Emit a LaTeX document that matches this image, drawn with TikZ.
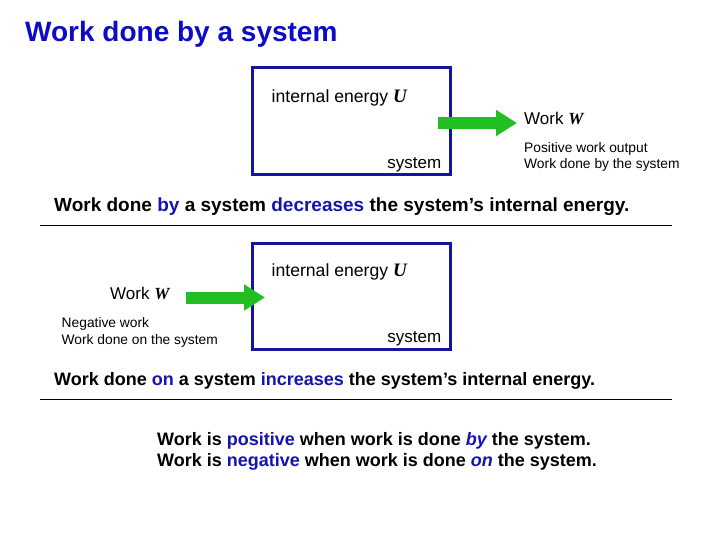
\documentclass[tikz,border=0pt]{standalone}
\usepackage{fontspec}
\setmainfont{Liberation Sans}
\newfontfamily\symfont{Liberation Serif}
\usetikzlibrary{arrows.meta}
\definecolor{sysblue}{RGB}{20,20,160}
\definecolor{titleblue}{RGB}{12,12,200}
\definecolor{wordblue}{RGB}{20,20,175}
\definecolor{workgreen}{RGB}{34,190,34}
\newcommand{\qU}{{\symfont\bfseries\itshape\fontsize{19}{20}\selectfont U}}
\newcommand{\qW}{{\symfont\bfseries\itshape W}}
\newcommand{\hl}[1]{\textcolor{wordblue}{#1}}
\tikzset{
  sysbox/.style={draw=sysblue, line width=3pt, minimum width=198pt,
    minimum height=107pt, inner sep=0pt},
  txt/.style={anchor=base west, inner sep=0pt, font=\fontsize{17}{20}\selectfont},
  smalltxt/.style={txt, font=\fontsize{13.8}{16}\selectfont},
  ruletxt/.style={txt, font=\bfseries\fontsize{19}{22}\selectfont},
  workarrow/.style={draw=workgreen, line width=12pt,
    -{Triangle[length=21pt,width=25pt]}},
}
\begin{document}
\begin{tikzpicture}[x=1pt,y=-1pt]
  \useasboundingbox (0,0) rectangle (720,540);
  \node[txt, font=\bfseries\fontsize{28}{30}\selectfont, text=titleblue]
    (title) at (25,42) {Work done by a system};

  % work done by the system
  \node[sysbox] (sysA) at (351.5,121.5) {};
  \node[txt, font=\fontsize{17.6}{20}\selectfont] (energyA) at (271.5,102.5)
    {internal energy \qU};
  \node[txt, anchor=base east] (nameA) at (441.5,168.5) {system};
  \coordinate (tailA) at (438,123);
  \coordinate (tipA) at (517,123);
  \draw[workarrow] (tailA) -- (tipA);
  \node[txt] (workA) at (524,125) {Work \qW};
  \node[smalltxt] (noteA) at (524,152.5) {Positive work output};
  \node[smalltxt] (noteAA) at (524,169) {Work done by the system};
  \node[ruletxt] (ruleA) at (54,211.5)
    {Work done \hl{by} a system \hl{decreases} the system’s internal energy.};
  \draw[line width=.8pt] (40,225) -- (672,225);

  % work done on the system
  \node[sysbox, minimum height=106pt] (sysB) at (351.5,296.5) {};
  \node[txt, font=\fontsize{17.6}{20}\selectfont] (energyB) at (271.5,276)
    {internal energy \qU};
  \node[txt, anchor=base east] (nameB) at (441.5,342.5) {system};
  \coordinate (tailB) at (186,297.5);
  \coordinate (tipB) at (265,297.5);
  \draw[workarrow] (tailB) -- (tipB);
  \node[txt] (workB) at (110,299.5) {Work \qW};
  \node[smalltxt] (noteB) at (61.5,327.5) {Negative work};
  \node[smalltxt] (noteBB) at (61.5,344) {Work done on the system};
  \node[ruletxt, font=\bfseries\fontsize{18}{22}\selectfont] (ruleB) at (54,385.5)
    {Work done \hl{on} a system \hl{increases} the system’s internal energy.};
  \draw[line width=.8pt] (40,399) -- (672,399);

  % sign convention
  \node[txt, font=\bfseries\fontsize{18}{21}\selectfont] (signA) at (157,445)
    {Work is \hl{positive} when work is done \hl{\itshape by} the system.};
  \node[txt, font=\bfseries\fontsize{18}{21}\selectfont] (signB) at (157,466)
    {Work is \hl{negative} when work is done \hl{\itshape on} the system.};
\end{tikzpicture}
\end{document}
